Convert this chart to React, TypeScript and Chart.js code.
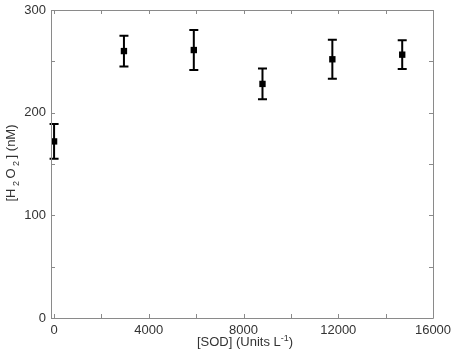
import React, { useEffect, useRef } from "react";
import { Chart, registerables } from "chart.js";

Chart.register(...registerables);

// ---- data ----
const sodUnits = [0, 2950, 5900, 8800, 11750, 14700];
const h2o2nM = [172, 260, 261, 228, 252, 256.5];
const h2o2Err = [17, 15, 19.5, 15, 19, 14];

const xTickValues = [0, 2000, 4000, 6000, 8000, 10000, 12000, 14000, 16000];
const xLabelValues = [0, 4000, 8000, 12000, 16000];
const yTickValues = [0, 50, 100, 150, 200, 250, 300];
const yLabelValues = [0, 100, 200, 300];

const FONT = "'Liberation Sans', Arial, sans-serif";
const AXIS_COLOR = "#8a8a8a";
const TEXT_COLOR = "#333333";

const frameAndTicks = {
  id: "frameAndTicks",
  afterDraw(chart: any) {
    const { ctx, chartArea: a, scales } = chart;
    const xs = scales.x;
    const ys = scales.y;
    ctx.save();
    ctx.strokeStyle = AXIS_COLOR;
    ctx.lineWidth = 1;
    ctx.beginPath();
    ctx.rect(Math.round(a.left) + 0.5, Math.round(a.top) + 0.5, Math.round(a.right - a.left), Math.round(a.bottom - a.top));
    ctx.stroke();
    const L = 4;
    ctx.beginPath();
    xTickValues.forEach((v) => {
      const px = Math.round(xs.getPixelForValue(v)) + 0.5;
      ctx.moveTo(px, a.bottom);
      ctx.lineTo(px, a.bottom - L);
      ctx.moveTo(px, a.top);
      ctx.lineTo(px, a.top + L);
    });
    yTickValues.forEach((v) => {
      const py = Math.round(ys.getPixelForValue(v)) + 0.5;
      ctx.moveTo(a.left, py);
      ctx.lineTo(a.left + L, py);
      ctx.moveTo(a.right, py);
      ctx.lineTo(a.right - L, py);
    });
    ctx.stroke();
    ctx.restore();
  },
};

const errorBars = {
  id: "errorBars",
  beforeDatasetsDraw(chart: any) {
    const { ctx, scales } = chart;
    const xs = scales.x;
    const ys = scales.y;
    ctx.save();
    ctx.strokeStyle = "#000";
    ctx.lineWidth = 2;
    const cap = 4.5;
    sodUnits.forEach((xv, i) => {
      const px = xs.getPixelForValue(xv);
      const top = ys.getPixelForValue(h2o2nM[i] + h2o2Err[i]);
      const bot = ys.getPixelForValue(h2o2nM[i] - h2o2Err[i]);
      ctx.beginPath();
      ctx.moveTo(px, top);
      ctx.lineTo(px, bot);
      ctx.moveTo(px - cap, top);
      ctx.lineTo(px + cap, top);
      ctx.moveTo(px - cap, bot);
      ctx.lineTo(px + cap, bot);
      ctx.stroke();
    });
    ctx.restore();
  },
};

type Seg = { t: string; shift: number };

function drawSegs(ctx: CanvasRenderingContext2D, segs: Seg[], x: number, y: number) {
  const big = `13px ${FONT}`;
  const small = `9px ${FONT}`;
  const widths = segs.map((s) => {
    ctx.font = s.shift === 0 ? big : small;
    return ctx.measureText(s.t).width;
  });
  const total = widths.reduce((p, c) => p + c, 0);
  let cx = x - total / 2;
  segs.forEach((s, i) => {
    ctx.font = s.shift === 0 ? big : small;
    ctx.fillText(s.t, cx, y + s.shift);
    cx += widths[i];
  });
}

const axisTitles = {
  id: "axisTitles",
  afterDraw(chart: any) {
    const { ctx, chartArea: a } = chart;
    ctx.save();
    ctx.fillStyle = TEXT_COLOR;
    ctx.textBaseline = "alphabetic";
    ctx.textAlign = "left";
    drawSegs(
      ctx,
      [
        { t: "[SOD] (Units L", shift: 0 },
        { t: "-1", shift: -5 },
        { t: ")", shift: 0 },
      ],
      (a.left + a.right) / 2 + 3,
      346
    );
    ctx.translate(15, 163);
    ctx.rotate(-Math.PI / 2);
    drawSegs(
      ctx,
      [
        { t: "[H", shift: 0 },
        { t: " 2 ", shift: 4 },
        { t: "O", shift: 0 },
        { t: " 2 ", shift: 4 },
        { t: "] (nM)", shift: 0 },
      ],
      0,
      0
    );
    ctx.restore();
  },
};

export default function App() {
  const ref = useRef<HTMLCanvasElement>(null);
  useEffect(() => {
    if (!ref.current) return;
    const chart = new Chart(ref.current, {
      type: "scatter",
      data: {
        datasets: [
          {
            data: sodUnits.map((x, i) => ({ x, y: h2o2nM[i] })),
            backgroundColor: "#000",
            borderColor: "#000",
            pointStyle: "rect",
            pointRadius: 4.5,
            borderWidth: 0,
          },
        ],
      },
      options: {
        animation: false,
        responsive: true,
        maintainAspectRatio: false,
        layout: { padding: { top: 10, right: 21, left: 0, bottom: 0 } },
        plugins: { legend: { display: false }, tooltip: { enabled: false } },
        scales: {
          x: {
            type: "linear",
            min: -130,
            max: 16000,
            grid: { display: false, drawTicks: false },
            border: { display: false },
            afterBuildTicks: (s: any) => {
              s.ticks = xTickValues.map((v) => ({ value: v }));
            },
            afterFit: (s: any) => {
              s.height = 43;
              s.paddingLeft = 0;
              s.paddingRight = 0;
            },
            ticks: {
              autoSkip: false,
              maxRotation: 0,
              padding: 5,
              color: TEXT_COLOR,
              font: { family: FONT, size: 13 },
              callback: (v: any) => (xLabelValues.includes(Number(v)) ? String(v) : ""),
            },
          },
          y: {
            type: "linear",
            min: 0,
            max: 300,
            grid: { display: false, drawTicks: false },
            border: { display: false },
            afterBuildTicks: (s: any) => {
              s.ticks = yTickValues.map((v) => ({ value: v }));
            },
            afterFit: (s: any) => {
              s.width = 51;
              s.paddingTop = 0;
              s.paddingBottom = 0;
            },
            ticks: {
              autoSkip: false,
              padding: 5,
              color: TEXT_COLOR,
              font: { family: FONT, size: 13 },
              callback: (v: any) => (yLabelValues.includes(Number(v)) ? String(v) : ""),
            },
          },
        },
      },
      plugins: [errorBars, frameAndTicks, axisTitles],
    });
    return () => chart.destroy();
  }, []);
  return (
    <div style={{ position: "absolute", left: 0, top: 0, width: 454, height: 361, background: "#fff" }}>
      <canvas ref={ref} />
    </div>
  );
}
